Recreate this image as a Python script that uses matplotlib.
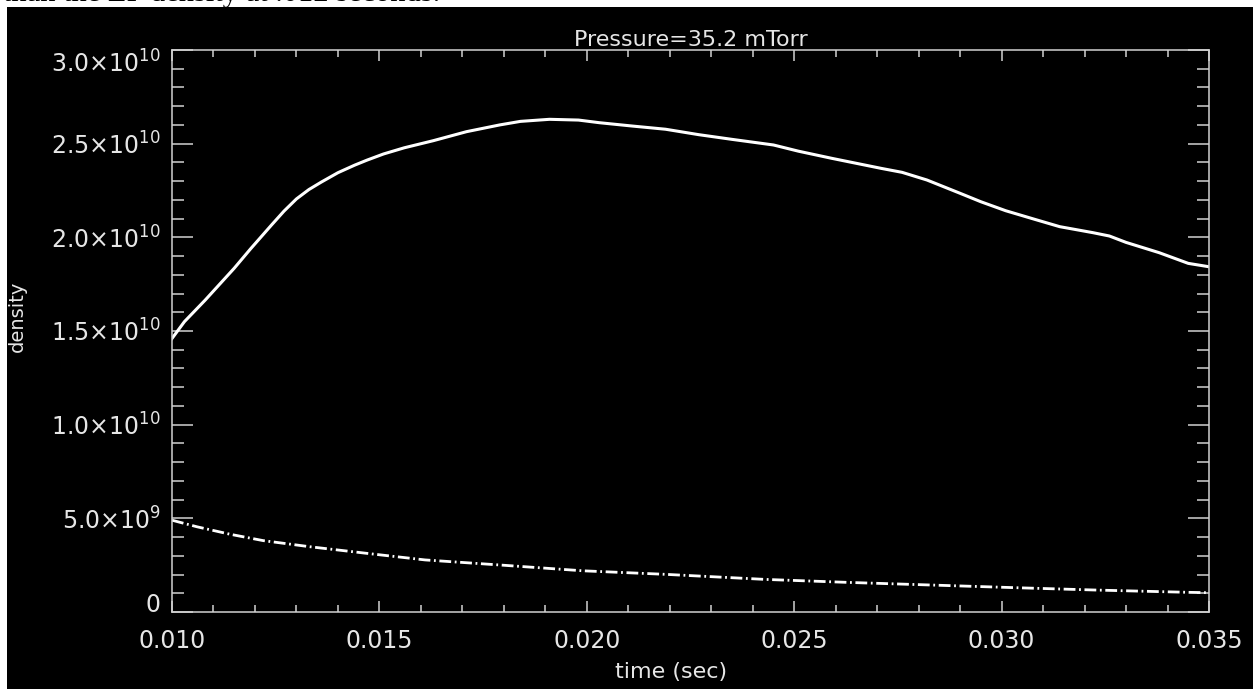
import matplotlib
matplotlib.use('Agg')
import matplotlib.pyplot as plt
from matplotlib.patches import Rectangle
from matplotlib.ticker import FixedLocator, MultipleLocator

plt.rcParams['lines.scale_dashes'] = False
plt.rcParams['font.family'] = ['DejaVu Sans']
plt.rcParams['mathtext.fontset'] = 'dejavusans'

# ---- data ----
time_solid = [0.0100, 0.0103, 0.0108, 0.0115, 0.0119, 0.0124, 0.0127, 0.0130,
              0.0133, 0.0136, 0.0140, 0.0144, 0.0147, 0.0151, 0.0156, 0.0163,
              0.0171, 0.0179, 0.0184, 0.0191, 0.0198, 0.0203, 0.0211, 0.0219,
              0.0227, 0.0235, 0.0245, 0.0251, 0.0259, 0.0271, 0.0276, 0.0282,
              0.0290, 0.0295, 0.0301, 0.0308, 0.0314, 0.0322, 0.0326, 0.0330,
              0.0338, 0.0345, 0.0350]
density_solid = [1.46e10, 1.55e10, 1.665e10, 1.835e10, 1.94e10, 2.066e10, 2.14e10, 2.205e10,
                 2.255e10, 2.295e10, 2.345e10, 2.385e10, 2.412e10, 2.445e10, 2.478e10, 2.516e10,
                 2.564e10, 2.60e10, 2.619e10, 2.630e10, 2.626e10, 2.612e10, 2.594e10, 2.577e10,
                 2.548e10, 2.523e10, 2.493e10, 2.460e10, 2.422e10, 2.368e10, 2.347e10, 2.306e10,
                 2.235e10, 2.19e10, 2.142e10, 2.096e10, 2.057e10, 2.025e10, 2.007e10, 1.973e10,
                 1.918e10, 1.861e10, 1.843e10]

time_dash = [0.0100, 0.0106, 0.0114, 0.0122, 0.0133, 0.0147, 0.0161, 0.0179,
             0.0199, 0.0219, 0.0243, 0.0263, 0.0283, 0.0303, 0.0323, 0.0345, 0.0350]
density_dash = [4.90e9, 4.55e9, 4.15e9, 3.81e9, 3.49e9, 3.13e9, 2.78e9, 2.51e9,
                2.20e9, 2.01e9, 1.74e9, 1.58e9, 1.44e9, 1.30e9, 1.17e9, 1.05e9, 1.03e9]

xticks = [0.010, 0.015, 0.020, 0.025, 0.030, 0.035]
xtick_labels = ['0.010', '0.015', '0.020', '0.025', '0.030', '0.035']
yticks = [0, 5e9, 1e10, 1.5e10, 2e10, 2.5e10, 3e10]
ytick_labels = ['0', '5.0×10$^{9}$', '1.0×10$^{10}$', '1.5×10$^{10}$',
                '2.0×10$^{10}$', '2.5×10$^{10}$', '3.0×10$^{10}$']
title = 'Pressure=35.2 mTorr'
xlabel = 'time (sec)'
ylabel = 'density'
caption = 'than the LP density at .012 seconds.'

# ---- figure ----
W, H = 1253, 689
fig = plt.figure(figsize=(W / 100, H / 100), dpi=100, facecolor='white')
bg = Rectangle((7 / W, 0), 1 - 7 / W, (H - 7) / H, transform=fig.transFigure,
               facecolor='black', edgecolor='none', zorder=-10)
fig.add_artist(bg)
fig.text(3 / W, 1 - 1 / H, caption, family='Liberation Serif', fontsize=22,
         va='baseline', ha='left', color='black', zorder=-5)

ax_l, ax_r, ax_t, ax_b = 172, 1209, 50, 612
ax = fig.add_axes([ax_l / W, (H - ax_b) / H, (ax_r - ax_l) / W, (ax_b - ax_t) / H])
ax.set_facecolor('black')

fg = '#e6e6e6'
spine_c = '#d2d2d2'

ax.plot(time_solid, density_solid, color='white', lw=2.2, solid_joinstyle='round')
ax.plot(time_dash, density_dash, color='white', lw=2.0,
        dashes=(8.5, 2.6, 1.3, 2.6))

ax.set_xlim(0.010, 0.035)
ax.set_ylim(0, 3e10)
ax.xaxis.set_major_locator(FixedLocator(xticks))
ax.set_xticklabels(xtick_labels)
ax.xaxis.set_minor_locator(MultipleLocator(0.001))
ax.yaxis.set_major_locator(FixedLocator(yticks))
ax.set_yticklabels(ytick_labels)
ax.yaxis.set_minor_locator(MultipleLocator(1e9))

for s in ax.spines.values():
    s.set_color(spine_c)
    s.set_linewidth(1.1)

ax.tick_params(which='both', direction='in', top=True, right=True,
               color=spine_c, labelcolor=fg, width=1.1)
ax.tick_params(axis='y', which='major', length=15, pad=8, labelsize=17)
ax.tick_params(axis='y', which='minor', length=8.6)
ax.tick_params(axis='x', which='major', length=8, pad=12, labelsize=17)
ax.tick_params(axis='x', which='minor', length=5)

yt = ax.yaxis.get_major_ticks()
yt[-1].label1.set_va('top')
yt[0].label1.set_va('baseline')

ax.set_title(title, color=fg, fontsize=16, pad=3)
ax.set_xlabel(xlabel, color=fg, fontsize=16)
ax.xaxis.set_label_coords((671 - ax_l) / (ax_r - ax_l), -(672 - ax_b) / (ax_b - ax_t))
ax.xaxis.label.set_va('center')
ax.set_ylabel(ylabel, color=fg, fontsize=14)
ax.yaxis.set_label_coords((17 - ax_l) / (ax_r - ax_l), (ax_b - 316) / (ax_b - ax_t))
ax.yaxis.label.set_va('center')

fig.savefig('out.png', dpi=100, facecolor='white')
